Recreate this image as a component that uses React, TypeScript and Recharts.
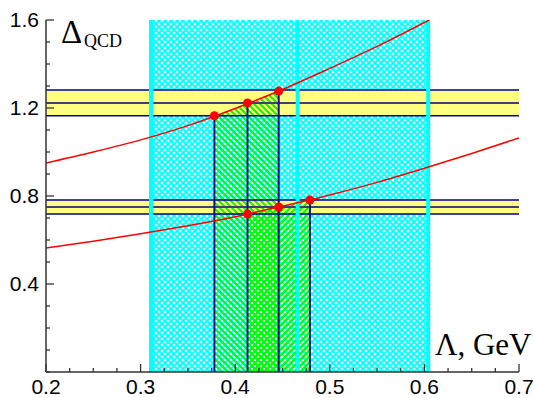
import React from 'react';
import {
  ComposedChart,
  Line,
  Area,
  Scatter,
  XAxis,
  YAxis,
  ReferenceArea,
  ReferenceLine,
} from 'recharts';

// Lambda (GeV) grid for the two Delta_QCD curves
const upperCurve = [
  { x: 0.2, y: 0.95 },
  { x: 0.25, y: 1.0 },
  { x: 0.3, y: 1.055 },
  { x: 0.35, y: 1.12 },
  { x: 0.4, y: 1.198 },
  { x: 0.45, y: 1.284 },
  { x: 0.5, y: 1.38 },
  { x: 0.55, y: 1.48 },
  { x: 0.605, y: 1.6 },
];

const lowerCurve = [
  { x: 0.2, y: 0.564 },
  { x: 0.25, y: 0.594 },
  { x: 0.3, y: 0.628 },
  { x: 0.35, y: 0.665 },
  { x: 0.4, y: 0.706 },
  { x: 0.45, y: 0.754 },
  { x: 0.5, y: 0.805 },
  { x: 0.55, y: 0.862 },
  { x: 0.6, y: 0.926 },
  { x: 0.65, y: 0.993 },
  { x: 0.7, y: 1.064 },
];

// crossing points with the bands
const upperDots = [
  { x: 0.378, y: 1.165 },
  { x: 0.413, y: 1.223 },
  { x: 0.446, y: 1.277 },
];
const lowerDots = [
  { x: 0.413, y: 0.718 },
  { x: 0.446, y: 0.75 },
  { x: 0.479, y: 0.782 },
];

// horizontal bands: [low, centre, high]
const upperBand = [1.165, 1.223, 1.282];
const lowerBand = [0.718, 0.75, 0.782];

// cyan region and its inner line
const cyanRange = [0.311, 0.604];
const cyanInner = 0.466;

const xMajor = [0.2, 0.3, 0.4, 0.5, 0.6, 0.7];
const xTicks = [
  0.2, 0.225, 0.25, 0.275, 0.3, 0.325, 0.35, 0.375, 0.4, 0.425, 0.45,
  0.475, 0.5, 0.525, 0.55, 0.575, 0.6, 0.625, 0.65, 0.675, 0.7,
];
const yMajor = [0.4, 0.8, 1.2, 1.6];
const yTicks = [
  0, 0.1, 0.2, 0.3, 0.4, 0.5, 0.6, 0.7, 0.8, 0.9, 1.0, 1.1, 1.2, 1.3, 1.4,
  1.5, 1.6,
];

const AXIS = '#333';
const NAVY = '#000090';
const tickFont = '"Liberation Sans", Arial, sans-serif';

const isMajor = (list: number[], v: number) =>
  list.some((m) => Math.abs(m - v) < 1e-6);

const XTick = (props: any) => {
  const { x, y, payload } = props;
  const major = isMajor(xMajor, payload.value);
  return (
    <g>
      <line x1={x} x2={x} y1={y} y2={y - (major ? 8 : 4)} stroke={AXIS} strokeWidth={1.3} />
      {major && (
        <text x={x} y={y + 22} textAnchor="middle" fontSize={21} fontFamily={tickFont} fill="#000">
          {payload.value.toFixed(1)}
        </text>
      )}
    </g>
  );
};

const YTick = (props: any) => {
  const { x, y, payload } = props;
  const major = isMajor(yMajor, payload.value);
  return (
    <g>
      <line x1={x} x2={x + (major ? 8 : 4)} y1={y} y2={y} stroke={AXIS} strokeWidth={1.3} />
      {major && (
        <text x={x - 7} y={y + 7} textAnchor="end" fontSize={21} fontFamily={tickFont} fill="#000">
          {payload.value.toFixed(1)}
        </text>
      )}
    </g>
  );
};

const dot = (p: any) => <circle cx={p.cx} cy={p.cy} r={4.5} fill="#ff0000" />;

export default function App() {
  const segments = [...upperDots, lowerDots[2]];
  return (
    <div style={{ position: 'absolute', left: 0, top: 0, width: 534, height: 398, background: '#fff' }}>
      <ComposedChart width={534} height={398} margin={{ top: 20, right: 15, left: 0, bottom: 0 }}>
        <defs>
          <pattern id="cyanHatch" width="6" height="6" patternUnits="userSpaceOnUse">
            <rect width="6" height="6" fill="#fff" />
            <path d="M0,0 L6,6 M6,0 L0,6 M-1,5 L1,7 M5,-1 L7,1 M-1,1 L1,-1 M5,7 L7,5" stroke="#00ffff" strokeWidth={1.9} />
          </pattern>
          <pattern id="greenA" width="6" height="6" patternUnits="userSpaceOnUse">
            <path d="M-1,5 L1,7 M0,0 L6,6 M5,-1 L7,1" stroke="#00ff00" strokeWidth={2} />
          </pattern>
          <pattern id="greenB" width="6" height="6" patternUnits="userSpaceOnUse">
            <path d="M-1,1 L1,-1 M0,6 L6,0 M5,7 L7,5" stroke="#00ff00" strokeWidth={2} />
          </pattern>
        </defs>
        <XAxis
          type="number"
          dataKey="x"
          domain={[0.2, 0.7]}
          ticks={xTicks}
          interval={0}
          height={26}
          tickSize={0}
          tickMargin={0}
          tickLine={false}
          tick={<XTick />}
          axisLine={{ stroke: AXIS, strokeWidth: 1.5 }}
          allowDataOverflow
        />
        <YAxis
          type="number"
          dataKey="y"
          domain={[0, 1.6]}
          ticks={yTicks}
          interval={0}
          width={46}
          tickSize={0}
          tickMargin={0}
          tickLine={false}
          tick={<YTick />}
          axisLine={{ stroke: AXIS, strokeWidth: 1.5 }}
          allowDataOverflow
        />

        <ReferenceArea x1={cyanRange[0]} x2={cyanRange[1]} fill="url(#cyanHatch)" fillOpacity={1} stroke="none" zIndex={10} />
        <ReferenceArea y1={upperBand[0]} y2={upperBand[2]} fill="#ffff80" fillOpacity={1} stroke="none" zIndex={20} />
        <ReferenceArea y1={lowerBand[0]} y2={lowerBand[2]} fill="#ffff80" fillOpacity={1} stroke="none" zIndex={20} />

        <Area data={upperDots} dataKey="y" type="linear" stroke="none" fill="url(#greenA)" fillOpacity={1} baseValue={0} isAnimationActive={false} zIndex={30} />
        <Area data={lowerDots} dataKey="y" type="linear" stroke="none" fill="url(#greenB)" fillOpacity={1} baseValue={0} isAnimationActive={false} zIndex={31} />

        {[upperBand, lowerBand].map((b, i) => (
          <React.Fragment key={'band' + i}>
            <ReferenceLine y={b[2]} stroke={NAVY} strokeWidth={1.6} zIndex={40} />
            <ReferenceLine y={b[1]} stroke="#404078" strokeWidth={2} zIndex={40} />
            <ReferenceLine y={b[0]} stroke={NAVY} strokeWidth={1.6} zIndex={40} />
          </React.Fragment>
        ))}

        <ReferenceLine x={cyanRange[0]} stroke="#00ffff" strokeWidth={4} zIndex={50} />
        <ReferenceLine x={cyanInner} stroke="#00ffff" strokeWidth={4} zIndex={50} />
        <ReferenceLine x={cyanRange[1]} stroke="#00ffff" strokeWidth={4} zIndex={50} />

        {segments.map((d, i) => (
          <ReferenceLine
            key={'seg' + i}
            segment={[{ x: d.x, y: 0 }, { x: d.x, y: d.y }]}
            stroke="#10108a"
            strokeWidth={2}
            zIndex={60}
          />
        ))}

        <Line data={upperCurve} dataKey="y" type="monotone" stroke="#ff0000" strokeWidth={1.5} dot={false} isAnimationActive={false} zIndex={70} />
        <Line data={lowerCurve} dataKey="y" type="monotone" stroke="#ff0000" strokeWidth={1.5} dot={false} isAnimationActive={false} zIndex={70} />

        <Scatter data={upperDots} dataKey="y" fill="#ff0000" shape={dot} isAnimationActive={false} zIndex={80} />
        <Scatter data={lowerDots} dataKey="y" fill="#ff0000" shape={dot} isAnimationActive={false} zIndex={80} />
      </ComposedChart>

      <svg width={534} height={398} style={{ position: 'absolute', left: 0, top: 0, pointerEvents: 'none' }}>
        <text x={61} y={43} fontFamily='"Liberation Serif", "Times New Roman", serif' fontSize={33} fill="#000">
          Δ
        </text>
        <text x={84} y={47} fontFamily='"Liberation Serif", "Times New Roman", serif' fontSize={18} fill="#000">
          QCD
        </text>
        <text x={435} y={355} fontFamily='"Liberation Serif", "Times New Roman", serif' fontSize={31} fill="#000">
          Λ, GeV
        </text>
      </svg>
    </div>
  );
}
